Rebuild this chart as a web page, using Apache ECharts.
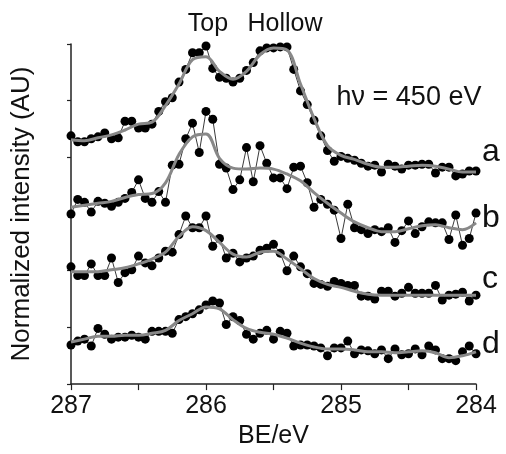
<!DOCTYPE html>
<html>
<head>
<meta charset="utf-8">
<script src="https://cdn.jsdelivr.net/npm/echarts@6/dist/echarts.min.js"></script>
<style>
  html, body { margin: 0; padding: 0; background: #fff; }
  #spec { width: 506px; height: 454px; }
</style>
</head>
<body>
<div id="spec"></div>
<script>
// binding energy grid of the measured points (eV)
var be = [287,286.95,286.9,286.85,286.8,286.75,286.7,286.65,286.6,286.55,
  286.5,286.45,286.4,286.35,286.3,286.25,286.2,286.15,286.1,286.05,
  286,285.95,285.9,285.85,285.8,285.75,285.7,285.65,285.6,285.55,
  285.5,285.45,285.4,285.35,285.3,285.25,285.2,285.15,285.1,285.05,
  285,284.95,284.9,284.85,284.8,284.75,284.7,284.65,284.6,284.55,
  284.5,284.45,284.4,284.35,284.3,284.25,284.2,284.15,284.1,284.05,284];
// grid of the fitted curves
var fitBe = [287,286.9,286.8,286.7,286.6,286.5,286.4,286.3,286.2,286.1,
  286,285.9,285.8,285.7,285.6,285.5,285.4,285.3,285.2,285.1,
  285,284.9,284.8,284.7,284.6,284.5,284.4,284.3,284.2,284.1,284];

// normalized intensities, already offset (AU)
var specA = [254,248,248,251,253,257,251,252,269,269,262,262,266,279,289,293,309,322,339,339,
  346,323,314,313,309,313,321,329,341,344,344,345,345,322,300,286,270,254,239,228,
  233,231,229,226,223,224,217,225,223,220,224,224,225,225,216,222,222,213,215,218,218];
var specB = [174,189,186,176,187,185,182,186,190,196,209,190,186,197,186,224,225,251,267,237,
  279,271,225,221,199,209,242,207,244,226,211,211,200,222,223,206,181,189,184,178,
  149,184,160,158,154,158,156,160,145,157,167,154,161,166,165,165,148,173,142,149,175];
var specC = [120,111,111,123,111,111,129,104,114,117,131,124,121,129,136,135,153,172,160,160,
  172,141,149,129,134,125,129,131,137,139,143,134,116,131,120,113,103,102,100,105,
  103,101,101,90,90,87,95,95,90,93,99,93,93,93,101,86,91,92,94,85,91];
var specD = [40,44,46,39,57,51,46,48,48,50,48,46,54,54,54,52,66,69,72,76,
  81,85,83,61,69,65,51,46,52,55,46,54,52,39,40,40,39,37,29,37,
  37,44,31,35,34,31,35,26,36,30,31,36,30,39,35,26,26,24,33,39,31];

var fitA = [250,249,252,255,260,266,268,285,307,332,335,320,312,320,337,344,342,307,272,244,
  234,230,225,222,222,223,224,223,220,217,217];
var fitB = [181,183,185,187,191,194,195,206,235,253,256,231,221,220,221,220,215,208,196,185,
  175,166,160,156,156,159,162,163,160,158,165];
var fitC = [115,115,115,117,119,123,128,135,151,161,157,145,133,130,135,136,128,118,108,102,
  99,95,92,91,91,91,91,91,91,91,91];
var fitD = [43,46,49,49,50,50,52,55,65,72,79,77,66,57,53,51,47,42,38,36,
  36,35,33,33,32,33,34,32,27,29,33];

var curveNames = ['a', 'b', 'c', 'd'];
var spectra = [specA, specB, specC, specD];
var fits = [fitA, fitB, fitC, fitD];

var FONT = '"Liberation Sans", Arial, sans-serif';

function pairs(xs, ys) {
  return ys.map(function (v, i) { return [xs[i], v]; });
}

var series = [];
spectra.forEach(function (s, i) {
  series.push({
    name: curveNames[i],
    type: 'line',
    data: pairs(be, s),
    symbol: 'circle',
    symbolSize: 9,
    showSymbol: true,
    itemStyle: { color: '#000' },
    lineStyle: { color: '#3a3a3a', width: 1 },
    z: 2
  });
});
fits.forEach(function (f, i) {
  series.push({
    name: curveNames[i] + ' fit',
    type: 'line',
    data: pairs(fitBe, f),
    smooth: 0.35,
    showSymbol: false,
    lineStyle: { color: '#888', width: 3 },
    z: 3
  });
});

var chart = echarts.init(document.getElementById('spec'));
chart.setOption({
  animation: false,
  backgroundColor: '#fff',
  textStyle: { fontFamily: FONT },
  grid: { left: 71, right: 30, top: 44, bottom: 61 },
  xAxis: {
    type: 'value',
    inverse: true,
    min: 284,
    max: 287,
    interval: 0.5,
    name: 'BE/eV',
    nameLocation: 'middle',
    nameGap: 34,
    nameTextStyle: { fontSize: 25, color: '#111', fontFamily: FONT },
    axisLine: { lineStyle: { color: '#222', width: 1.5 } },
    axisTick: { length: 6, lineStyle: { color: '#222', width: 1.2 } },
    axisLabel: {
      fontSize: 25,
      color: '#111',
      fontFamily: FONT,
      margin: 10,
      formatter: function (v) { return Number.isInteger(v) ? String(v) : ''; }
    },
    splitLine: { show: false }
  },
  yAxis: {
    type: 'value',
    min: 0,
    max: 348,
    interval: 58,
    name: 'Normalized intensity (AU)',
    nameLocation: 'middle',
    nameGap: 36,
    nameTextStyle: { fontSize: 26, color: '#111', fontFamily: FONT },
    axisLine: { show: true, lineStyle: { color: '#222', width: 1.5 } },
    axisTick: { show: true, length: 4, lineStyle: { color: '#222', width: 1.2 } },
    axisLabel: { show: false },
    splitLine: { show: false }
  },
  graphic: [
    { type: 'text', x: 208, y: 24, style: { text: 'Top', font: '25px ' + FONT, fill: '#111', align: 'center', verticalAlign: 'middle' } },
    { type: 'text', x: 285, y: 24, style: { text: 'Hollow', font: '25px ' + FONT, fill: '#111', align: 'center', verticalAlign: 'middle' } },
    { type: 'text', x: 409, y: 98, style: { text: 'h\u03bd = 450 eV', font: '27px ' + FONT, fill: '#111', align: 'center', verticalAlign: 'middle' } },
    { type: 'text', x: 482, y: 152, style: { text: 'a', font: '32px ' + FONT, fill: '#111', align: 'left', verticalAlign: 'middle' } },
    { type: 'text', x: 482, y: 218, style: { text: 'b', font: '32px ' + FONT, fill: '#111', align: 'left', verticalAlign: 'middle' } },
    { type: 'text', x: 482, y: 279, style: { text: 'c', font: '32px ' + FONT, fill: '#111', align: 'left', verticalAlign: 'middle' } },
    { type: 'text', x: 482, y: 344, style: { text: 'd', font: '32px ' + FONT, fill: '#111', align: 'left', verticalAlign: 'middle' } }
  ],
  series: series
});
</script>
</body>
</html>
